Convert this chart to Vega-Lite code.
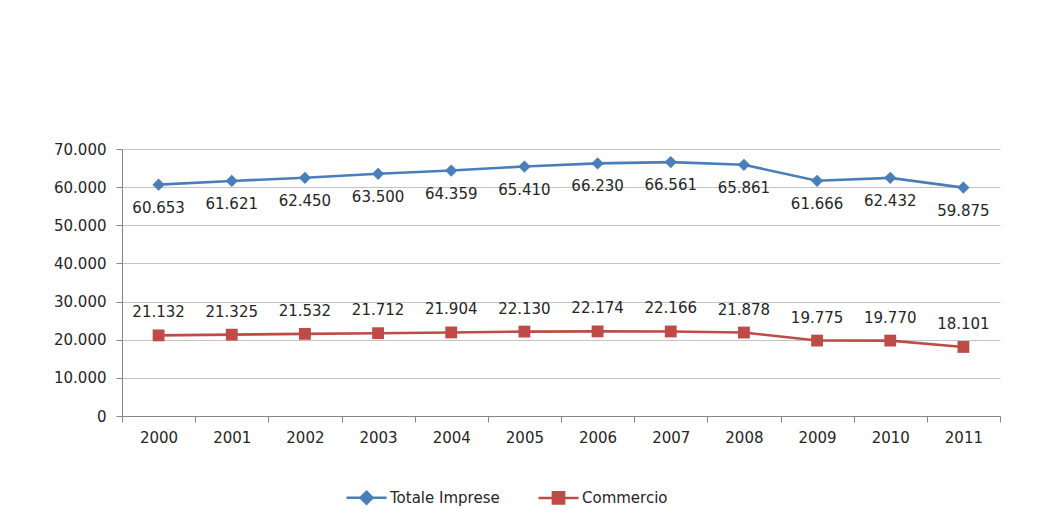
{
  "$schema": "https://vega.github.io/schema/vega-lite/v6.json",
  "width": 878,
  "height": 267,
  "autosize": {"type": "none"},
  "padding": {"left": 122, "top": 149, "right": 64, "bottom": 101},
  "background": "white",
  "config": {
    "locale": {"number": {"decimal": ",", "thousands": ".", "grouping": [3], "currency": ["€", ""]}},
    "view": {"stroke": null},
    "font": "DejaVu Sans"
  },
  "data": {
    "values": [
      {"anno": "2000", "serie": "Totale Imprese", "valore": 60653},
      {"anno": "2001", "serie": "Totale Imprese", "valore": 61621},
      {"anno": "2002", "serie": "Totale Imprese", "valore": 62450},
      {"anno": "2003", "serie": "Totale Imprese", "valore": 63500},
      {"anno": "2004", "serie": "Totale Imprese", "valore": 64359},
      {"anno": "2005", "serie": "Totale Imprese", "valore": 65410},
      {"anno": "2006", "serie": "Totale Imprese", "valore": 66230},
      {"anno": "2007", "serie": "Totale Imprese", "valore": 66561},
      {"anno": "2008", "serie": "Totale Imprese", "valore": 65861},
      {"anno": "2009", "serie": "Totale Imprese", "valore": 61666},
      {"anno": "2010", "serie": "Totale Imprese", "valore": 62432},
      {"anno": "2011", "serie": "Totale Imprese", "valore": 59875},
      {"anno": "2000", "serie": "Commercio", "valore": 21132},
      {"anno": "2001", "serie": "Commercio", "valore": 21325},
      {"anno": "2002", "serie": "Commercio", "valore": 21532},
      {"anno": "2003", "serie": "Commercio", "valore": 21712},
      {"anno": "2004", "serie": "Commercio", "valore": 21904},
      {"anno": "2005", "serie": "Commercio", "valore": 22130},
      {"anno": "2006", "serie": "Commercio", "valore": 22174},
      {"anno": "2007", "serie": "Commercio", "valore": 22166},
      {"anno": "2008", "serie": "Commercio", "valore": 21878},
      {"anno": "2009", "serie": "Commercio", "valore": 19775},
      {"anno": "2010", "serie": "Commercio", "valore": 19770},
      {"anno": "2011", "serie": "Commercio", "valore": 18101}
    ]
  },
  "encoding": {
    "x": {
      "field": "anno",
      "type": "ordinal",
      "scale": {"type": "band", "paddingInner": 0, "paddingOuter": 0},
      "axis": {
        "title": null,
        "labelAngle": 0,
        "tickBand": "extent",
        "tickSize": 6,
        "tickColor": "#868686",
        "domainColor": "#868686",
        "labelFontSize": 15,
        "labelColor": "#262626",
        "labelPadding": 8,
        "grid": false
      }
    },
    "y": {
      "field": "valore",
      "type": "quantitative",
      "scale": {"domain": [0, 70000], "nice": false},
      "axis": {
        "title": null,
        "values": [0, 10000, 20000, 30000, 40000, 50000, 60000, 70000],
        "format": ",.0f",
        "tickSize": 6,
        "tickColor": "#868686",
        "domainColor": "#868686",
        "gridColor": "#C4C4C4",
        "labelFontSize": 15,
        "labelColor": "#262626",
        "labelPadding": 10
      }
    },
    "color": {
      "field": "serie",
      "type": "nominal",
      "scale": {"domain": ["Totale Imprese", "Commercio"], "range": ["#4A7EBB", "#BE4B48"]},
      "legend": {
        "title": null,
        "orient": "none",
        "direction": "horizontal",
        "legendX": 223,
        "legendY": 327,
        "labelFontSize": 15,
        "labelColor": "#262626",
        "labelOffset": 2,
        "columnPadding": 33,
        "symbolSize": 1600,
        "symbolStrokeWidth": 2.5,
        "encode": {
          "symbols": {
            "update": {
              "shape": {"signal": "datum.value === 'Totale Imprese' ? 'M-1,0H1M0,-0.3L0.3,0L0,0.3L-0.3,0Z' : 'M-1,0H1M-0.28,-0.28H0.28V0.28H-0.28Z'"},
              "stroke": {"scale": "color", "field": "value"},
              "fill": {"scale": "color", "field": "value"},
              "strokeWidth": {"value": 2.5},
              "size": {"value": 1600}
            }
          }
        }
      }
    }
  },
  "layer": [
    {
      "mark": {"type": "line", "strokeWidth": 2.6}
    },
    {
      "transform": [{"filter": "datum.serie === 'Totale Imprese'"}],
      "mark": {"type": "point", "shape": "diamond", "filled": true, "opacity": 1, "size": 150}
    },
    {
      "transform": [{"filter": "datum.serie === 'Commercio'"}],
      "mark": {"type": "point", "shape": "square", "filled": true, "opacity": 1, "size": 140}
    },
    {
      "transform": [{"filter": "datum.serie === 'Totale Imprese'"}],
      "mark": {"type": "text", "dy": 23, "fontSize": 15},
      "encoding": {"text": {"field": "valore", "type": "quantitative", "format": ",.0f"}, "color": {"value": "#262626"}}
    },
    {
      "transform": [{"filter": "datum.serie === 'Commercio'"}],
      "mark": {"type": "text", "dy": -23, "fontSize": 15},
      "encoding": {"text": {"field": "valore", "type": "quantitative", "format": ",.0f"}, "color": {"value": "#262626"}}
    }
  ]
}
